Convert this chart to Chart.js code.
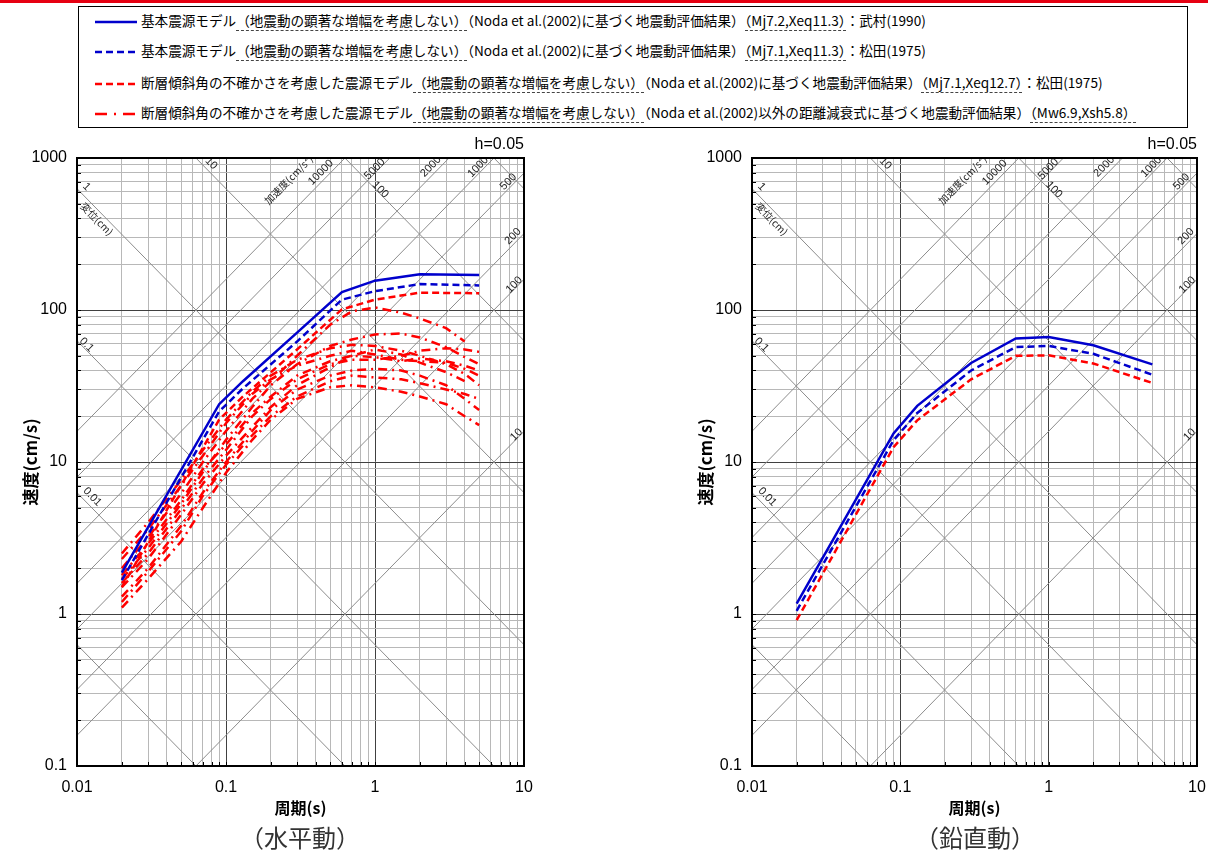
<!DOCTYPE html>
<html>
<head>
<meta charset="utf-8">
<script src="https://cdn.jsdelivr.net/npm/chart.js@4.4.1/dist/chart.umd.min.js"></script>
<style>
body{margin:0;width:1208px;height:852px;background:#fff;position:relative;overflow:hidden;font-family:"Noto Sans CJK JP",sans-serif}
#topbar{position:absolute;left:0;top:0;width:1208px;height:3px;background:#e60012}
#legend{position:absolute;left:78px;top:6px;width:1110px;height:122px;border:1px solid #000;box-sizing:border-box}
.row{position:absolute;left:16px;height:20px;font-size:13.6px;line-height:20px;white-space:nowrap;color:#000}
.row svg{vertical-align:middle;margin-right:4px}
.u{border-bottom:1px dashed #444}
canvas{position:absolute;top:130px}
.cap{position:absolute;top:822px;width:300px;text-align:center;font-size:24px;line-height:30px;color:#333}
</style>
</head>
<body>
<div id="topbar"></div>
<div id="legend">
  <div class="row" style="top:3px"><svg width="42" height="8"><line x1="0" y1="4" x2="42" y2="4" stroke="#0000cc" stroke-width="2.5"/></svg>基本震源モデル<span class="u">（地震動の顕著な増幅を考慮しない）</span>（Noda et al.(2002)に基づく地震動評価結果）<span class="u">（Mj7.2,Xeq11.3）</span>：武村(1990)</div>
  <div class="row" style="top:33px"><svg width="42" height="8"><line x1="0" y1="4" x2="42" y2="4" stroke="#0000cc" stroke-width="2.5" stroke-dasharray="7,4"/></svg>基本震源モデル<span class="u">（地震動の顕著な増幅を考慮しない）</span>（Noda et al.(2002)に基づく地震動評価結果）<span class="u">（Mj7.1,Xeq11.3）</span>：松田(1975)</div>
  <div class="row" style="top:65px"><svg width="42" height="8"><line x1="0" y1="4" x2="42" y2="4" stroke="#ff0000" stroke-width="2.5" stroke-dasharray="7,4"/></svg>断層傾斜角の不確かさを考慮した震源モデル<span class="u">（地震動の顕著な増幅を考慮しない）</span>（Noda et al.(2002)に基づく地震動評価結果）<span class="u">（Mj7.1,Xeq12.7）</span>：松田(1975)</div>
  <div class="row" style="top:95px"><svg width="42" height="8"><line x1="0" y1="4" x2="42" y2="4" stroke="#ff0000" stroke-width="2.5" stroke-dasharray="12,7,2,7"/></svg>断層傾斜角の不確かさを考慮した震源モデル<span class="u">（地震動の顕著な増幅を考慮しない）</span>（Noda et al.(2002)以外の距離減衰式に基づく地震動評価結果）<span class="u">（Mw6.9,Xsh5.8）</span></div>
</div>
<canvas id="hChart" width="560" height="722" style="left:0"></canvas>
<canvas id="vChart" width="560" height="722" style="left:675px"></canvas>
<div class="cap" style="left:150px">（水平動）</div>
<div class="cap" style="left:825px">（鉛直動）</div>
<script>
// 周期(s)
const periods = [0.02, 0.09, 0.13, 0.3, 0.6, 1.0, 2.0, 5.0]

// 水平動
const hTakemura = [1.87, 24, 34, 71, 131, 156, 172, 170]
const hMatsuda = [1.67, 21.5, 30.5, 62, 117, 133, 148, 145]
const hDipMatsuda = [1.5, 19, 27, 55, 101, 117, 130, 129]

// 鉛直動
const vTakemura = [1.17, 15.4, 23.4, 44.8, 65, 66.4, 58.6, 43.9]
const vMatsuda = [1.05, 13.9, 21, 40, 57, 58, 51.5, 37.5]
const vDipMatsuda = [0.91, 12.5, 18.8, 35, 50, 50.3, 44.5, 33.1]

// Noda et al.(2002)以外の距離減衰式 (水平動)
const ddPeriods = [0.02, 0.03, 0.05, 0.07, 0.1, 0.15, 0.2, 0.3, 0.5, 0.7, 1.0, 1.5, 2.0, 3.0, 4.0, 5.0]
const dd1 = [2.0, 3.2, 6.2, 10, 16, 26, 34, 50, 80, 98, 104, 96, 88, 76, 62, null]
const dd2 = [1.7, 2.7, 5.3, 8.6, 14, 23, 32, 44, 58, 64, 69, 70, 66, 57, 49, 44]
const dd3 = [2.3, 3.6, 7.0, 11, 18, 28, 35, 43, 50, 54, 51, 47, 46, 45, 41, 37]
const dd4 = [1.8, 2.9, 5.6, 9.0, 13, 21, 27, 37, 46, 50, 49, 46, 48, 46, 43, 40]
const dd5 = [1.5, 2.3, 4.5, 7.2, 11, 17, 23, 32, 42, 50, 55, 51, 45, 39, 34, null]
const dd6 = [1.1, 1.7, 3.0, 5.0, 8.5, 14, 19, 26, 31, 32, 31, 29, 27, 24, 20, 17.5]
const dd7 = [1.3, 2.0, 3.8, 6.3, 10, 16, 22, 30, 37, 40, 41, 40, 37, 32, 26, 22]
const dd8 = [2.5, 4.0, 7.6, 12, 19, 29, 37, 47, 56, 59, 58, 54, 50, 44, 38, 32]
const dd9 = [1.6, 2.5, 4.9, 7.8, 12, 20, 26, 35, 44, 47, 47, 50, 54, 56, 55, 53]
const dd10 = [1.2, 1.9, 3.5, 6.0, 9.6, 15, 20, 27, 34, 37, 36, 35, 33, 30, 28, 26]

// 軸目盛
const xTickLabels = ['0.01', '0.1', '1', '10']
const yTickLabels = ['0.1', '1', '10', '100', '1000']

// 三軸グラフの斜線 変位(cm) と 加速度(cm/s2)
const dispLines = [0.001, 0.01, 0.1, 1, 10, 100, 1000]
const accLines = [10, 100, 200, 500, 1000, 2000, 5000, 10000]
const diagLabels = [
	{kind: 'd', val: 1, t: 0.0106, off: 8, text: '1'},
	{kind: 'd', val: 1, t: 0.0147, off: -7, text: '変位(cm)', cjk: true},
	{kind: 'd', val: 10, t: 0.0735, off: 7, text: '10'},
	{kind: 'd', val: 100, t: 1.05, off: 3, text: '100'},
	{kind: 'd', val: 0.1, t: 0.0111, off: 4, text: '0.1'},
	{kind: 'd', val: 0.01, t: 0.0116, off: 8, text: '0.01'},
	{kind: 'a', val: 10000, t: 0.346, off: 25, text: '加速度(cm/s²)', cjk: true},
	{kind: 'a', val: 10000, t: 0.468, off: 7, text: '10000'},
	{kind: 'a', val: 5000, t: 1.03, off: 3, text: '5000'},
	{kind: 'a', val: 2000, t: 2.56, off: 7, text: '2000'},
	{kind: 'a', val: 1000, t: 5.2, off: 5, text: '1000'},
	{kind: 'a', val: 500, t: 8.3, off: 5, text: '500'},
	{kind: 'a', val: 200, t: 9.0, off: 6, text: '200'},
	{kind: 'a', val: 100, t: 8.9, off: 3, text: '100'},
	{kind: 'a', val: 10, t: 9.2, off: 3, text: '10'}
]

function velOf(kind, val, t){
	return kind == 'd' ? 2 * Math.PI * val / t : val * t / (2 * Math.PI)
}

function isDecade(v){
	const l = Math.log10(v)
	return Math.abs(l - Math.round(l)) < 1e-6
}

function logTicks(labels){
	const out = []
	labels.forEach((s, i) => {
		const base = Number(s)
		if (i == labels.length - 1) { out.push({value: base}); return }
		for (let k = 1; k < 10; k++) out.push({value: +(base * k).toPrecision(3)})
	})
	return out
}

const tripartite = {
	id: 'tripartite',
	beforeDatasetsDraw(chart){
		const {ctx, chartArea: a, scales: {x, y}} = chart
		ctx.save()
		ctx.beginPath()
		ctx.rect(a.left, a.top, a.right - a.left, a.bottom - a.top)
		ctx.clip()
		ctx.strokeStyle = '#8c8c8c'
		ctx.lineWidth = 1
		const draw = (kind, val) => {
			ctx.beginPath()
			ctx.moveTo(x.getPixelForValue(x.min), y.getPixelForValue(velOf(kind, val, x.min)))
			ctx.lineTo(x.getPixelForValue(x.max), y.getPixelForValue(velOf(kind, val, x.max)))
			ctx.stroke()
		}
		dispLines.forEach(d => draw('d', d))
		accLines.forEach(v => draw('a', v))

		ctx.fillStyle = '#222'
		ctx.textAlign = 'center'
		ctx.textBaseline = 'middle'
		diagLabels.forEach(l => {
			const px = x.getPixelForValue(l.t)
			const py = y.getPixelForValue(velOf(l.kind, l.val, l.t))
			const dx = x.getPixelForValue(l.t * 10) - px
			const dy = y.getPixelForValue(velOf(l.kind, l.val, l.t * 10)) - py
			const len = Math.hypot(dx, dy)
			const nx = dy / len, ny = -dx / len
			ctx.save()
			ctx.translate(px + nx * l.off, py + ny * l.off)
			ctx.rotate(Math.atan2(dy, dx))
			ctx.font = l.cjk ? '10px "Noto Sans CJK JP"' : '11px "Liberation Sans"'
			ctx.fillText(l.text, 0, 0)
			ctx.restore()
		})
		ctx.restore()
	},
	afterDraw(chart){
		const {ctx, chartArea: a, scales: {x, y}} = chart
		ctx.save()
		// 内向きの短い目盛
		ctx.strokeStyle = '#000'
		ctx.lineWidth = 1
		ctx.beginPath()
		x.ticks.forEach(t => {
			const px = Math.round(x.getPixelForValue(t.value)) + 0.5
			ctx.moveTo(px, a.bottom); ctx.lineTo(px, a.bottom - 4)
		})
		y.ticks.forEach(t => {
			const py = Math.round(y.getPixelForValue(t.value)) + 0.5
			ctx.moveTo(a.left, py); ctx.lineTo(a.left + 4, py)
		})
		ctx.stroke()
		ctx.lineWidth = 2
		ctx.strokeRect(a.left, a.top, a.right - a.left, a.bottom - a.top)
		ctx.restore()
	}
}

function toPoints(xs, ys){
	return xs.map((t, i) => ({x: t, y: ys[i]})).filter(p => p.y != null)
}

function mainSets(solid, dashed, red){
	return [
		{data: toPoints(periods, solid), borderColor: '#0000cc', borderWidth: 2.5},
		{data: toPoints(periods, dashed), borderColor: '#0000cc', borderWidth: 2.5, borderDash: [7, 4]},
		{data: toPoints(periods, red), borderColor: '#ff0000', borderWidth: 2.5, borderDash: [7, 4]}
	]
}

function makeChart(id, datasets, padRight){
	const gridColor = c => (c.tick && isDecade(c.tick.value)) ? '#404040' : '#b8b8b8'
	const tickLabel = v => isDecade(v) ? String(v) : ''
	return new Chart(document.getElementById(id), {
		type: 'scatter',
		data: {datasets: datasets.map(d => Object.assign({showLine: true, pointRadius: 0, tension: 0, fill: false}, d))},
		options: {
			responsive: false,
			animation: false,
			devicePixelRatio: 1,
			layout: {padding: {top: 4.8, right: padRight, bottom: 0, left: 0}},
			plugins: {
				legend: {display: false},
				tooltip: {enabled: false},
				title: {display: true, text: 'h=0.05', align: 'end', color: '#000',
					font: {family: 'Liberation Sans', size: 16, weight: 'normal'}, padding: {top: 0, bottom: 4}}
			},
			scales: {
				x: {
					type: 'logarithmic', min: 0.01, max: 10,
					afterBuildTicks: s => { s.ticks = logTicks(xTickLabels) },
					afterFit: s => { s.height = 86 },
					ticks: {autoSkip: false, maxRotation: 0, padding: 12, color: '#000',
						font: {family: 'Liberation Sans', size: 16}, callback: tickLabel},
					grid: {drawTicks: false, color: gridColor, lineWidth: 1},
					border: {color: '#000', width: 2},
					title: {display: true, text: '周期(s)', color: '#000', padding: {top: 0, bottom: 34},
						font: {family: 'Noto Sans CJK JP', size: 16, weight: 'bold'}}
				},
				y: {
					type: 'logarithmic', min: 0.1, max: 1000,
					afterBuildTicks: s => { s.ticks = logTicks(yTickLabels) },
					afterFit: s => { s.width = 77 },
					ticks: {autoSkip: false, padding: 10, color: '#000',
						font: {family: 'Liberation Sans', size: 16}, callback: tickLabel},
					grid: {drawTicks: false, color: gridColor, lineWidth: 1},
					border: {color: '#000', width: 2},
					title: {display: true, text: '速度(cm/s)', color: '#000', padding: {top: 20, bottom: 0},
						font: {family: 'Noto Sans CJK JP', size: 17, weight: 'bold'}}
				}
			}
		},
		plugins: [tripartite]
	})
}

const dashDot = [dd1, dd2, dd3, dd4, dd5, dd6, dd7, dd8, dd9, dd10].map(arr => ({
	data: toPoints(ddPeriods, arr), borderColor: '#ff0000', borderWidth: 2.5, borderDash: [9, 5, 2, 5]
}))

makeChart('hChart', mainSets(hTakemura, hMatsuda, hDipMatsuda).concat(dashDot), 36)
makeChart('vChart', mainSets(vTakemura, vMatsuda, vDipMatsuda), 38)
</script>
</body>
</html>
